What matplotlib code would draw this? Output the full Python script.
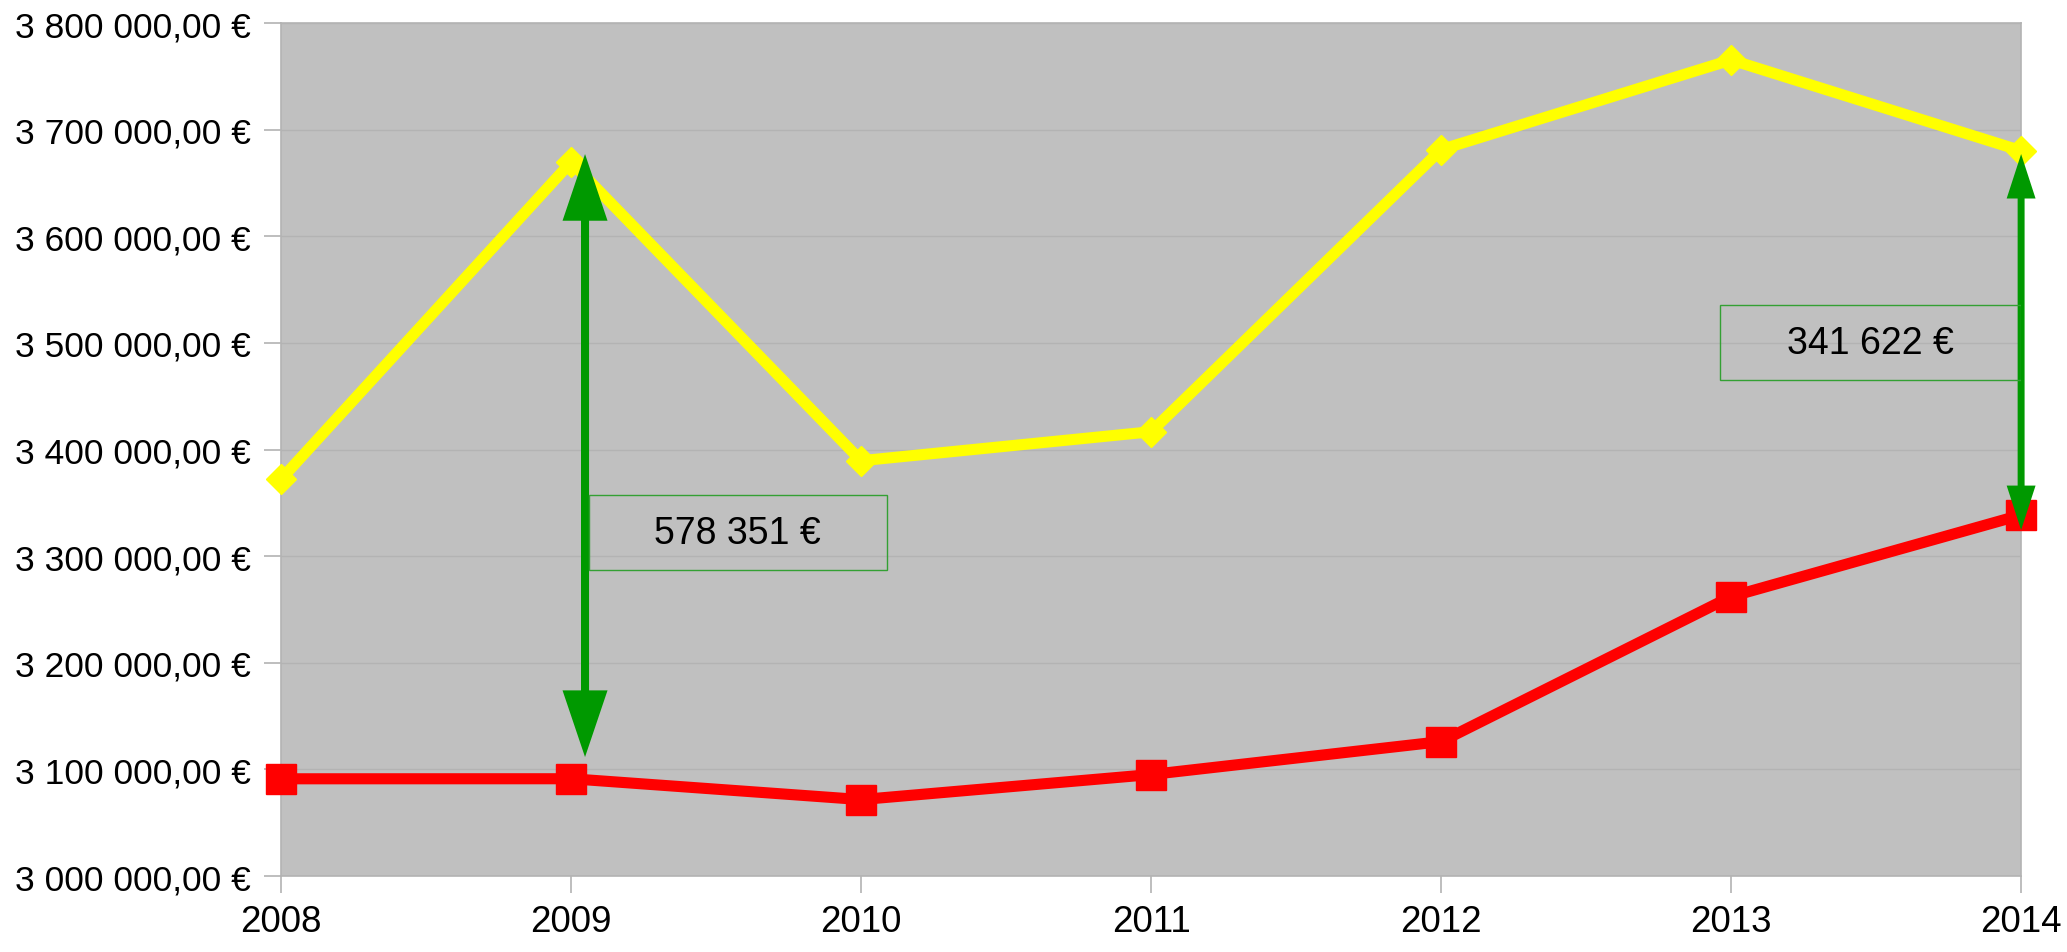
import matplotlib
matplotlib.use("Agg")
import matplotlib.pyplot as plt
from matplotlib.ticker import FuncFormatter
from matplotlib.patches import FancyArrowPatch, Rectangle

plt.rcParams['font.family'] = ['Liberation Sans', 'DejaVu Sans']

years = [2008, 2009, 2010, 2011, 2012, 2013, 2014]
upper = [3372200, 3669600, 3389500, 3416700, 3681300, 3765400, 3680200]
lower = [3091200, 3091250, 3071700, 3095200, 3126100, 3262100, 3338600]
yticks = [3000000 + 100000 * i for i in range(9)]

diff_labels = ["578 351 €", "341 622 €"]
arrow_x = [2009.048, 2014.0]
arrow_top = [3677100, 3677100]
arrow_bottom = [3111600, 3324500]
box_x = [(2009.06, 2010.09), (2012.96, 2014.0)]
box_y = [(3286900, 3357300), (3464900, 3535400)]

fig = plt.figure(figsize=(20.67, 9.53), dpi=100)
ax = fig.add_axes([0.136, 0.0797, 0.8418, 0.8951])
ax.set_facecolor('#c0c0c0')

ax.set_xlim(2008, 2014)
ax.set_ylim(3000000, 3800000)
ax.set_yticks(yticks)
ax.set_xticks(years)

def fmt(v, pos):
    s = f"{v:,.2f}".replace(",", " ").replace(".", ",")
    return s + " €"
ax.yaxis.set_major_formatter(FuncFormatter(fmt))
ax.set_xticklabels([str(y) for y in years])

ax.grid(axis='y', color='#b3b3b3', linewidth=1.0)
ax.set_axisbelow(True)
for sp in ax.spines.values():
    sp.set_color('#b3b3b3')
    sp.set_linewidth(1.2)

ax.tick_params(axis='both', colors='#b3b3b3', labelcolor='black',
               length=12, width=1.2, direction='out')
ax.tick_params(axis='y', pad=10, labelsize=25.5)
ax.tick_params(axis='x', pad=8, labelsize=26.5)

ax.plot(years, upper, color='#ffff00', linewidth=8, marker='D', markersize=15,
        clip_on=False, zorder=3)
ax.plot(years, lower, color='#ff0000', linewidth=8, marker='s', markersize=22,
        clip_on=False, zorder=3)

# (head_length pt, head half-width pt, shaft width pt)
head_specs = [(48, 16.2, 5.8), (32, 10.4, 5.0)]
for i in range(2):
    hl, hw, lw = head_specs[i]
    p_top = (arrow_x[i], arrow_top[i])
    p_bot = (arrow_x[i], arrow_bottom[i])
    # shaft, stopping at the bases of the heads
    shaft = FancyArrowPatch(p_top, p_bot, arrowstyle='-', color='#009900',
                            linewidth=lw, capstyle='butt',
                            shrinkA=hl - 1, shrinkB=hl - 1, zorder=4, clip_on=False)
    ax.add_patch(shaft)
    # heads
    heads = FancyArrowPatch(p_top, p_bot,
                            arrowstyle=f"<|-|>,head_length={hl},head_width={hw}",
                            mutation_scale=1, facecolor='#009900', edgecolor='none',
                            linewidth=0, shrinkA=0, shrinkB=0, zorder=4, clip_on=False)
    ax.add_patch(heads)
    x0, x1 = box_x[i]
    y0, y1 = box_y[i]
    ax.add_patch(Rectangle((x0, y0), x1 - x0, y1 - y0, fill=False,
                           edgecolor='#33a033', linewidth=1.0, zorder=5))
    ax.text((x0 + x1) / 2, (y0 + y1) / 2, diff_labels[i], ha='center', va='center',
            fontsize=27, color='black', zorder=6)

fig.savefig("out.png", dpi=100)
